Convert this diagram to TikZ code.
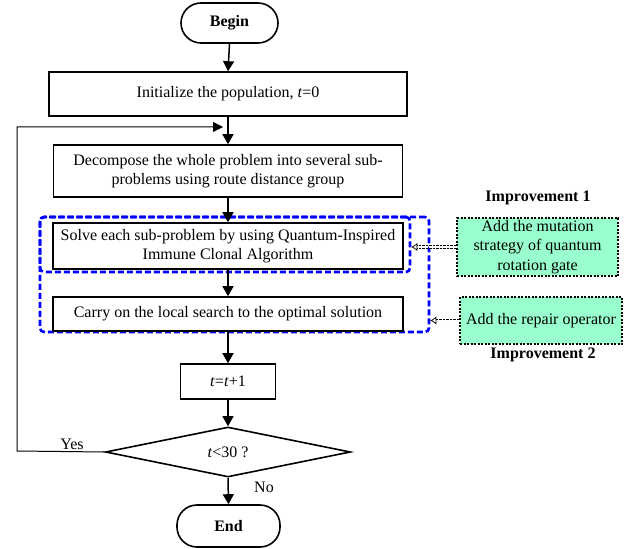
\documentclass[tikz,border=0pt]{standalone}
\usepackage{fontspec}
\setmainfont{Liberation Serif}
\usetikzlibrary{shapes.geometric,arrows.meta,positioning}
\definecolor{mint}{RGB}{153,255,204}
\begin{document}
\begin{tikzpicture}[x=1pt,y=-1pt,
  font=\fontsize{16}{19.5}\selectfont,
  base/.style={draw=black,line width=1.6pt,inner sep=0pt,align=center},
  procbox/.style={base,rectangle},
  termbox/.style={base,rectangle,rounded corners=20pt,font=\fontsize{16}{19.5}\selectfont\bfseries},
  decbox/.style={base,diamond,aspect=4.9},
  bluebox/.style={draw=blue,line width=2.6pt,dash pattern=on 6pt off 3pt,rounded corners=4pt,inner sep=0pt},
  greenbox/.style={draw=black,fill=mint,line width=1.2pt,dash pattern=on 2pt off 1.5pt,inner sep=0pt,align=center},
  flow/.style={line width=1.5pt,-{Triangle[length=10pt,width=11pt]}},
  link/.style={double=white,double distance=2pt,line width=0.7pt,dash pattern=on 2.5pt off 1pt,-{Latex[open,length=6pt,width=8pt]}},
  lbl/.style={inner sep=1pt}
]
\useasboundingbox (0,0) rectangle (636,548);
% blue dashed groups
\node[bluebox,minimum width=370pt,minimum height=55pt] (gA) at (225,244.5) {};
\node[bluebox,minimum width=389pt,minimum height=115pt] (gB) at (234.5,274.5) {};
% flow nodes
\node[termbox,minimum width=97pt,minimum height=40pt] (begin) at (229.5,23) {Begin};
\node[procbox,minimum width=358pt,minimum height=44pt] (init) at (228,94) {Initialize the population, \textit{t}=0};
\node[procbox,minimum width=349pt,minimum height=52pt] (dec) at (228,171) {Decompose the whole problem into several sub-\\problems using route distance group};
\node[procbox,minimum width=350pt,minimum height=46pt] (solve) at (228,246) {Solve each sub-problem by using Quantum-Inspired\\Immune Clonal Algorithm};
\node[procbox,minimum width=350pt,minimum height=34pt] (carry) at (228,314) {Carry on the local search to the optimal solution};
\node[procbox,minimum width=95pt,minimum height=35pt] (tinc) at (228,381.5) {\textit{t}=\textit{t}+1};
\node[decbox,minimum width=245pt,minimum height=50pt] (cond) at (228,452) {\textit{t}<30 ?};
\node[termbox,minimum width=103pt,minimum height=42pt] (end) at (228.5,526) {End};
% green boxes
\node[greenbox,minimum width=161pt,minimum height=58pt] (g1) at (537.5,247) {Add the mutation\\strategy of quantum\\rotation gate};
\node[greenbox,minimum width=162pt,minimum height=47pt] (g2) at (541,320.5) {Add the repair operator};
\node[font=\fontsize{16}{19.5}\selectfont\bfseries] (imp1) at (538,198) {Improvement 1};
\node[font=\fontsize{16}{19.5}\selectfont\bfseries] (imp2) at (543,355) {Improvement 2};
% main flow
\draw[flow] (begin.south) -- (init.north);
\draw[flow] (init.south) -- (dec.north);
\draw[flow] (dec.south) -- (solve.north);
\draw[flow] (solve.south) -- (carry.north);
\draw[flow] (carry.south) -- (tinc.north);
\draw[flow] (tinc.south) -- (cond.north);
\draw[flow] (cond.south) -- (end.north);
% loop back
\coordinate (loopL) at (17,451);
\coordinate (loopT) at (17,127);
\coordinate (loopE) at (223,127);
\draw[line width=1pt,-{Triangle[length=10pt,width=10pt]}] (cond.west) -- (loopL) -- (loopT) -- (loopE);
\node[lbl,above] (yes) at (72,451) {Yes};
\node[lbl] (no) at (264,487) {No};
% improvement links
\draw[link] (g1.west) -- (g1.west -| gA.east);
\draw[link] (g2.west) -- (g2.west -| gB.east);
\end{tikzpicture}
\end{document}
